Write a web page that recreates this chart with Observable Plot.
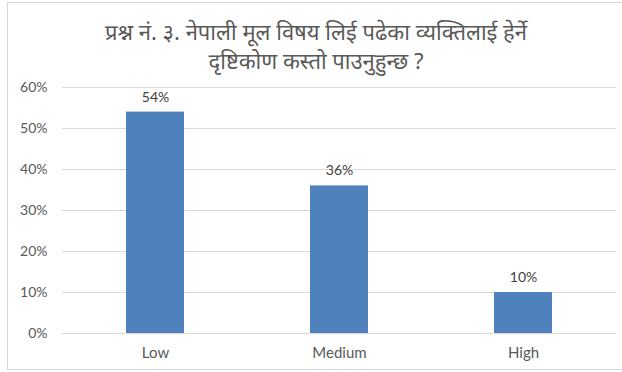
<!DOCTYPE html>
<html>
<head>
<meta charset="utf-8">
<script src="https://cdn.jsdelivr.net/npm/d3@7"></script>
<script src="https://cdn.jsdelivr.net/npm/@observablehq/plot@0.6"></script>
<style>
  html, body { margin: 0; padding: 0; background: #fff; }
  #frame {
    position: absolute; left: 7px; top: 2px; width: 640px; height: 366px;
    border-left: 1px solid #d9d9d9; border-top: 1px solid #d9d9d9; border-bottom: 1px solid #d9d9d9;
  }
  #title {
    position: absolute; left: 0; top: 17px; width: 632px; text-align: center;
    font-family: "Noto Sans", "DejaVu Sans", sans-serif; font-size: 22px; line-height: 29px;
    color: #595959;
  }
  #chart { position: absolute; left: 0; top: 75px; }
</style>
</head>
<body>
<div id="frame"></div>
<div id="title">प्रश्न नं. ३. नेपाली मूल विषय लिई पढेका व्यक्तिलाई हेर्ने<br>दृष्टिकोण कस्तो पाउनुहुन्छ ?</div>
<div id="chart"></div>
<script>
const categories = ["Low", "Medium", "High"];
const values = [0.54, 0.36, 0.10];
const yTicks = [0, 0.1, 0.2, 0.3, 0.4, 0.5, 0.6];

const data = categories.map((c, i) => ({category: c, value: values[i]}));
const pct = d3.format(".0%");

const chart = Plot.plot({
  width: 622,
  height: 297,
  marginLeft: 62,
  marginRight: 6,
  marginTop: 12,
  marginBottom: 39,
  style: {fontFamily: "Lato, 'Open Sans', sans-serif", fontSize: "14px", color: "#595959", background: "transparent"},
  x: {domain: categories, paddingInner: 0.686, paddingOuter: 0.343, label: null, tickSize: 0, tickPadding: 14},
  y: {domain: [0, 0.6], ticks: yTicks, tickFormat: pct, label: null, tickSize: 0, tickPadding: 15},
  marks: [
    Plot.gridY(yTicks, {stroke: "#d9d9d9", strokeOpacity: 1, strokeWidth: 1}),
    Plot.barY(data, {x: "category", y: "value", fill: "#4f81bd"}),
    Plot.text(data, {x: "category", y: "value", text: d => pct(d.value), dy: -15, fill: "#404040", fontSize: 14}),
    Plot.axisX({tickSize: 0, tickPadding: 14, fontSize: 15, label: null})
  ]
});
document.getElementById("chart").appendChild(chart);
</script>
</body>
</html>
